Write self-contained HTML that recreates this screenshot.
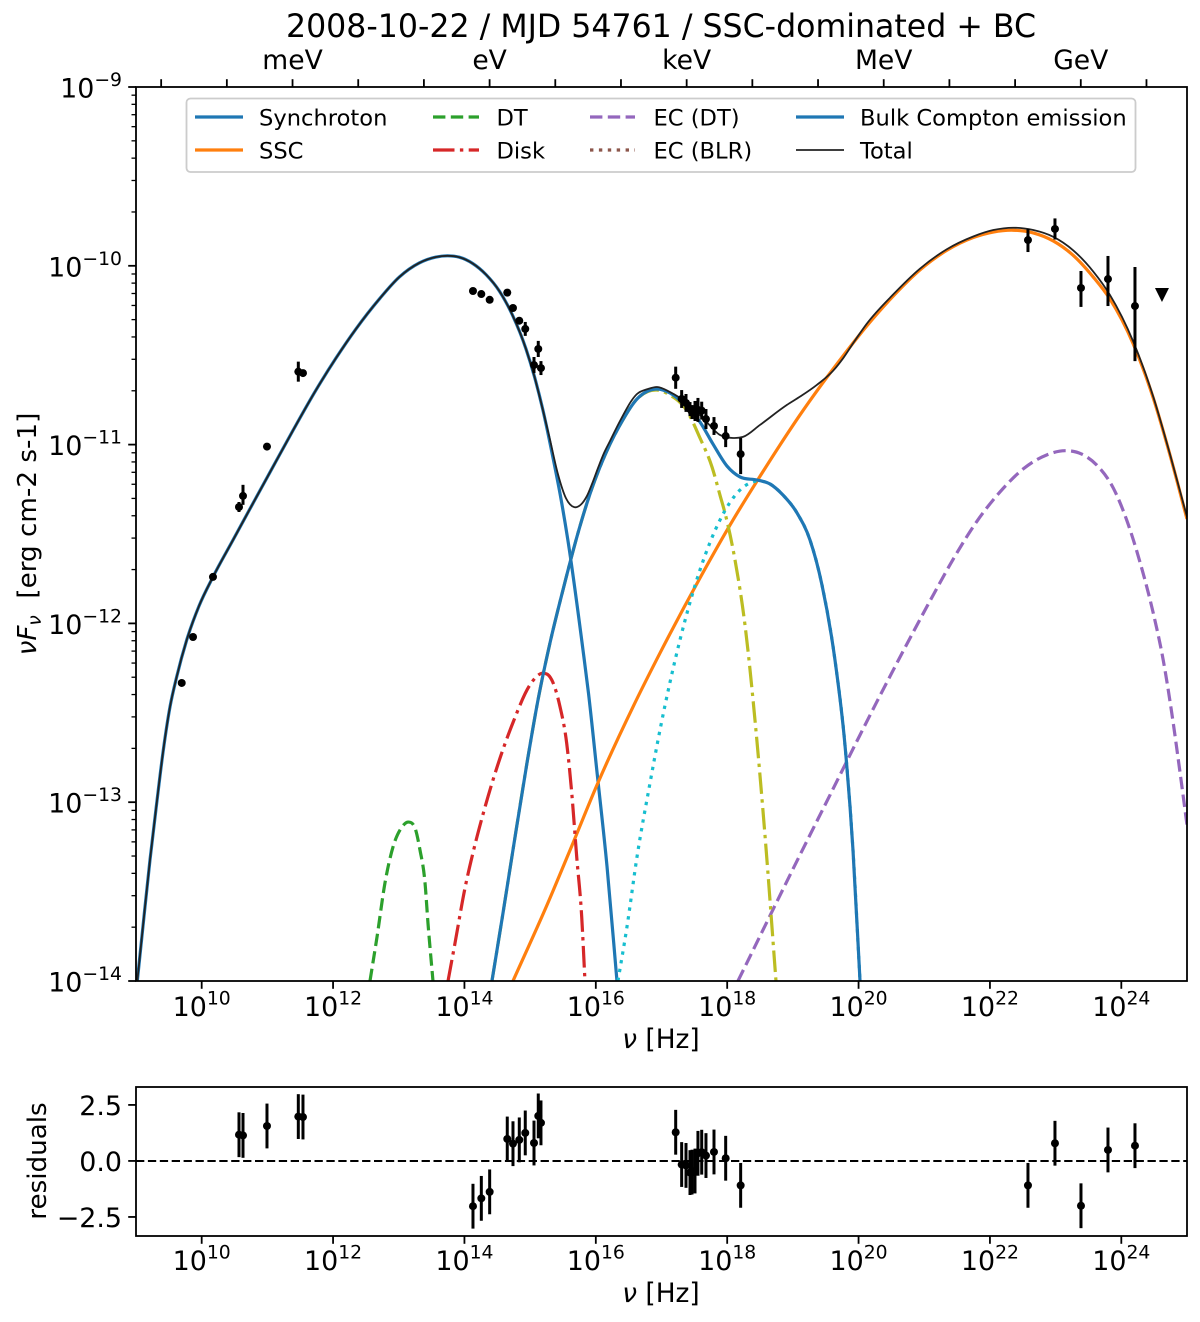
<!DOCTYPE html>
<html lang="en">
<head>
<meta charset="utf-8">
<title>2008-10-22 SED</title>
<style>
html,body{margin:0;padding:0;background:#fff;}
svg{display:block;font-family:"DejaVu Sans","Liberation Sans",sans-serif;fill:#000;}
</style>
</head>
<body>
<svg id="chart" xmlns="http://www.w3.org/2000/svg" width="1200" height="1322" viewBox="0 0 1200 1322">
  <defs>
    <clipPath id="main-clip"><rect x="136" y="87" width="1051" height="894"/></clipPath>
    <clipPath id="res-clip"><rect x="136" y="1087" width="1051" height="149"/></clipPath>
  </defs>
  <rect x="0" y="0" width="1200" height="1322" fill="#fff"/>
  <text x="661" y="37" font-size="31.6" text-anchor="middle">2008-10-22 / MJD 54761 / SSC-dominated + BC</text>
  <g id="main-marks" clip-path="url(#main-clip)"></g>
  <g id="res-marks" clip-path="url(#res-clip)"></g>
  <g id="axes"></g>
  <text x="661" y="1048" font-size="26.4" text-anchor="middle"><tspan font-style="italic">ν</tspan> [Hz]</text>
  <text x="661" y="1302" font-size="26.4" text-anchor="middle"><tspan font-style="italic">ν</tspan> [Hz]</text>
  <text transform="translate(36,534) rotate(-90)" font-size="26.2" text-anchor="middle"><tspan font-style="italic">νF</tspan><tspan font-style="italic" font-size="18.5" dy="5">ν</tspan><tspan dy="-5">&#160;&#160;[erg cm-2 s-1]</tspan></text>
  <text transform="translate(46,1161) rotate(-90)" font-size="26.2" text-anchor="middle">residuals</text>
  <g>
    <rect x="186.5" y="98.5" width="949" height="73.5" rx="4" ry="4" fill="#fff" fill-opacity="0.8" stroke="#ccc" stroke-width="1.8"/>
    <g><line x1="195" x2="243" y1="117" y2="117" stroke="#1f77b4" stroke-width="3.2"/><text x="259" y="125.5" font-size="22.6">Synchroton</text></g>
    <g><line x1="195" x2="243" y1="150" y2="150" stroke="#ff7f0e" stroke-width="3.2"/><text x="259" y="158.5" font-size="22.6">SSC</text></g>
    <g><line x1="433" x2="479" y1="117" y2="117" stroke="#2ca02c" stroke-width="3.2" stroke-dasharray="12.4 5.4"/><text x="496.5" y="125.5" font-size="22.6">DT</text></g>
    <g><line x1="433" x2="479" y1="150" y2="150" stroke="#d62728" stroke-width="3.2" stroke-dasharray="21.5 5.4 3.4 5.4"/><text x="496.5" y="158.5" font-size="22.6">Disk</text></g>
    <g><line x1="590" x2="635" y1="117" y2="117" stroke="#9467bd" stroke-width="3.2" stroke-dasharray="12.4 5.4"/><text x="653.5" y="125.5" font-size="22.6">EC (DT)</text></g>
    <g><line x1="590" x2="635" y1="150" y2="150" stroke="#8c564b" stroke-width="3.2" stroke-dasharray="3.4 5.5"/><text x="653.5" y="158.5" font-size="22.6">EC (BLR)</text></g>
    <g><line x1="796" x2="844" y1="117" y2="117" stroke="#1f77b4" stroke-width="3.2"/><text x="860" y="125.5" font-size="22.6">Bulk Compton emission</text></g>
    <g><line x1="796" x2="844" y1="150" y2="150" stroke="#222" stroke-width="1.8"/><text x="860" y="158.5" font-size="22.6">Total</text></g>
  </g>
</svg>
<script>
// ---- chart data: log10(nu [Hz]) and log10(nuFnu [erg cm-2 s-1]) ----
const synchrotronLogNu = [9.020,9.111,9.213,9.315,9.416,9.518,9.620,9.772,9.959,10.172,10.481,10.725,11.029,11.385,11.740,12.045,12.349,12.704,13.008,13.313,13.567,13.745,13.922,14.126,14.328,14.531,14.734,14.937,15.063,15.191,15.343,15.470,15.572,15.805,15.888,16.018,16.170,16.322];
const synchrotronLogFlux = [-14,-13.677,-13.323,-13.006,-12.708,-12.466,-12.298,-12.093,-11.903,-11.740,-11.531,-11.366,-11.162,-10.924,-10.695,-10.516,-10.353,-10.186,-10.063,-9.984,-9.951,-9.944,-9.952,-9.987,-10.049,-10.141,-10.278,-10.465,-10.616,-10.801,-11.064,-11.304,-11.528,-12.149,-12.389,-12.831,-13.357,-14];

const sscLogNu = [14.739,15.257,15.653,16.018,16.566,16.977,17.586,18.088,18.454,18.804,19.108,19.413,19.717,20.123,20.528,20.935,21.341,21.746,22.051,22.355,22.660,22.964,23.269,23.573,23.827,24.182,24.486,24.741,25];
const sscLogFlux = [-14,-13.575,-13.228,-12.904,-12.467,-12.166,-11.746,-11.422,-11.204,-11.002,-10.834,-10.676,-10.527,-10.337,-10.169,-10.023,-9.914,-9.842,-9.811,-9.801,-9.816,-9.861,-9.942,-10.063,-10.186,-10.437,-10.739,-11.058,-11.416];

const dtLogNu = [12.562,12.669,12.790,12.912,13.049,13.141,13.247,13.323,13.400,13.445,13.521];
const dtLogFlux = [-14,-13.754,-13.452,-13.251,-13.139,-13.111,-13.144,-13.267,-13.452,-13.676,-14];

const diskLogNu = [13.750,13.856,14.008,14.134,14.287,14.491,14.744,14.998,15.177,15.253,15.329,15.455,15.557,15.634,15.709,15.785,15.835];
const diskLogFlux = [-14,-13.789,-13.481,-13.277,-13.062,-12.810,-12.550,-12.344,-12.279,-12.283,-12.316,-12.466,-12.671,-12.950,-13.305,-13.640,-14];

const ecDtLogNu = [18.164,19.108,19.565,20.022,20.276,20.528,20.833,21.137,21.442,21.798,22.153,22.507,22.863,23.142,23.396,23.625,23.878,24.082,24.284,24.486,24.638,24.766,24.893,25];
const ecDtLogFlux = [-14,-13.295,-12.960,-12.624,-12.440,-12.261,-12.048,-11.841,-11.640,-11.431,-11.265,-11.136,-11.058,-11.034,-11.053,-11.114,-11.243,-11.422,-11.657,-11.942,-12.205,-12.496,-12.831,-13.127];

const bulkComptonLogNu = [14.419,14.587,14.739,14.952,15.120,15.302,15.500,15.729,15.911,16.064,16.216,16.368,16.627,16.931,17.129,17.388,17.586,17.784,17.997,18.195,18.454,18.651,18.849,19.063,19.260,19.443,19.641,19.793,19.915,20.022];
const bulkComptonLogFlux = [-14,-13.620,-13.267,-12.781,-12.428,-12.110,-11.813,-11.494,-11.276,-11.125,-10.997,-10.890,-10.745,-10.689,-10.711,-10.790,-10.874,-10.997,-11.120,-11.181,-11.198,-11.220,-11.282,-11.382,-11.533,-11.785,-12.205,-12.680,-13.267,-14];

const bcDiskLogNu = [14.419,14.587,14.739,14.952,15.120,15.302,15.500,15.729,15.911,16.064,16.216,16.368,16.627,16.931,17.129,17.388,17.586,17.769,17.890,17.982,18.119,18.271,18.423,18.575,18.743];
const bcDiskLogFlux = [-14,-13.620,-13.267,-12.781,-12.428,-12.110,-11.813,-11.494,-11.276,-11.125,-10.997,-10.890,-10.745,-10.695,-10.723,-10.812,-10.963,-11.125,-11.282,-11.405,-11.645,-12.009,-12.540,-13.183,-14];

const bcBlrLogNu = [16.337,16.474,16.627,16.825,16.977,17.281,17.586,17.890,18.195,18.454,18.651,18.849,19.063,19.260,19.443,19.641,19.793,19.915,20.022];
const bcBlrLogFlux = [-14,-13.698,-13.306,-12.893,-12.596,-12.093,-11.701,-11.422,-11.254,-11.204,-11.220,-11.282,-11.382,-11.533,-11.785,-12.205,-12.680,-13.267,-14];

const totalLogNu = [9.020,9.111,9.213,9.315,9.416,9.518,9.620,9.772,9.959,10.172,10.481,10.725,11.029,11.385,11.740,12.045,12.349,12.704,13.008,13.313,13.567,13.745,13.922,14.126,14.328,14.531,14.734,14.937,15.063,15.191,15.292,15.420,15.546,15.672,15.774,15.865,15.942,16.033,16.125,16.216,16.368,16.627,16.794,16.931,17.129,17.388,17.632,17.890,18.088,18.240,18.499,18.910,19.108,19.362,19.615,19.767,19.930,20.123,20.528,20.935,21.341,21.746,22.051,22.355,22.660,22.964,23.269,23.573,23.827,24.182,24.486,24.741,25];
const totalLogFlux = [-14,-13.677,-13.323,-13.006,-12.708,-12.466,-12.298,-12.093,-11.903,-11.740,-11.531,-11.366,-11.162,-10.924,-10.695,-10.516,-10.353,-10.186,-10.063,-9.984,-9.951,-9.944,-9.952,-9.987,-10.049,-10.141,-10.278,-10.465,-10.616,-10.801,-10.956,-11.160,-11.300,-11.350,-11.335,-11.287,-11.220,-11.131,-11.047,-10.980,-10.868,-10.717,-10.689,-10.678,-10.706,-10.767,-10.851,-10.946,-10.963,-10.957,-10.890,-10.778,-10.732,-10.667,-10.586,-10.516,-10.426,-10.325,-10.160,-10.016,-9.908,-9.836,-9.800,-9.787,-9.800,-9.838,-9.914,-10.032,-10.163,-10.424,-10.732,-11.054,-11.405];

const obsLogNu = [9.696,9.868,10.172,10.568,10.629,10.994,11.471,11.542,14.130,14.257,14.384,14.652,14.739,14.835,14.926,15.059,15.124,15.165,17.216,17.307,17.373,17.434,17.464,17.510,17.555,17.612,17.677,17.799,17.977,18.205,22.579,22.990,23.386,23.797,24.208];
const obsLogFlux = [-12.333,-12.076,-11.740,-11.349,-11.287,-11.011,-10.592,-10.600,-10.141,-10.158,-10.190,-10.150,-10.236,-10.307,-10.353,-10.555,-10.465,-10.572,-10.626,-10.745,-10.767,-10.801,-10.818,-10.812,-10.806,-10.810,-10.857,-10.896,-10.952,-11.053,-9.856,-9.794,-10.124,-10.074,-10.225];
const obsErrUp = [0,0,0,0.028,0.062,0,0.056,0,0,0,0,0,0,0,0.039,0.045,0.045,0.039,0.062,0.050,0.050,0.039,0.039,0.056,0.067,0.050,0.056,0.050,0.056,0.090,0.062,0.059,0.095,0.129,0.218];
const obsErrDown = [0,0,0,0.028,0.050,0,0.056,0,0,0,0,0,0,0,0.039,0.045,0.045,0.039,0.062,0.050,0.050,0.039,0.039,0.056,0.067,0.050,0.056,0.050,0.062,0.112,0.067,0.059,0.106,0.151,0.308];

const upperLimitLogNu = [24.619];
const upperLimitLogFlux = [-10.163];

const residualLogNu = [10.568,10.629,10.994,11.471,11.542,14.130,14.257,14.384,14.652,14.739,14.835,14.926,15.059,15.124,15.165,17.216,17.307,17.373,17.434,17.464,17.510,17.555,17.612,17.677,17.799,17.977,18.205,22.579,22.990,23.386,23.797,24.208];
const residualValues = [1.17,1.14,1.56,1.98,1.96,-2.02,-1.67,-1.38,0.98,0.77,0.94,1.25,0.80,2.01,1.70,1.28,-0.16,-0.20,-0.52,-0.50,-0.45,0.34,0.39,0.24,0.40,0.12,-1.09,-1.09,0.79,-2.00,0.49,0.68];
const residualErrors = [1,1,1,1,1,1,1,1,1,1,1,1,1,1,1,1,1,1,1,1,1,1,1,1,1,1,1,1,1,1,1,1];

const xTickExponents = [10,12,14,16,18,20,22,24];
const yTickExponents = [-9,-10,-11,-12,-13,-14];
const residualTickValues = [2.5,0,-2.5];
const residualTickLabels = ['2.5','0.0','\u22122.5'];
const topTickLogNu = [9.383,10.383,11.383,12.383,13.383,14.383,15.383,16.383,17.383,18.383,19.383,20.383,21.383,22.383,23.383,24.383];
const energyLabels = ['meV','eV','keV','MeV','GeV'];
const energyLabelLogNu = [11.383,14.383,17.383,20.383,23.383];

// ---- axis functions ----
const AX = {left:136,right:1187,top:87,bottom:981,resTop:1087,resBottom:1236};
function xScale(logNu){return AX.left+(logNu-9)/16*(AX.right-AX.left);}
function yScale(logF){return AX.top+(-9-logF)/5*(AX.bottom-AX.top);}
function resScale(v){return AX.resTop+(3.3-v)/6.65*(AX.resBottom-AX.resTop);}

const NS='http://www.w3.org/2000/svg';
const mainG=document.getElementById('main-marks');
const resG=document.getElementById('res-marks');
const axesG=document.getElementById('axes');

function make(tag,parent){const e=document.createElementNS(NS,tag);parent.appendChild(e);return e;}

// smooth cubic path with parabolic tangents through the points
function smoothPath(xs,ys){
  const n=xs.length,d=[],m=[];
  for(let i=0;i<n-1;i++)d.push((ys[i+1]-ys[i])/(xs[i+1]-xs[i]));
  m[0]=d[0];m[n-1]=d[n-2];
  for(let i=1;i<n-1;i++){
    const h0=xs[i]-xs[i-1],h1=xs[i+1]-xs[i];
    let t=(h1*d[i-1]+h0*d[i])/(h0+h1);
    if(d[i-1]*d[i]>0){
      const lim=3*Math.min(Math.abs(d[i-1]),Math.abs(d[i]));
      if(Math.abs(t)>lim)t=Math.sign(t)*lim;
    }
    m[i]=t;
  }
  let s='M'+xs[0].toFixed(2)+' '+ys[0].toFixed(2);
  for(let i=0;i<n-1;i++){
    const h=(xs[i+1]-xs[i])/3;
    s+=' C'+(xs[i]+h).toFixed(2)+' '+(ys[i]+m[i]*h).toFixed(2)+' '+(xs[i+1]-h).toFixed(2)+' '+(ys[i+1]-m[i+1]*h).toFixed(2)+' '+xs[i+1].toFixed(2)+' '+ys[i+1].toFixed(2);
  }
  return s;
}

function drawCurve(name,logNu,logF,color,width,dash){
  const p=make('path',mainG);
  
  
  p.setAttribute('d',smoothPath(logNu.map(xScale),logF.map(yScale)));
  p.setAttribute('fill','none');
  p.setAttribute('stroke',color);
  p.setAttribute('stroke-width',width);
  if(dash)p.setAttribute('stroke-dasharray',dash);
}

drawCurve('synchrotron-curve',synchrotronLogNu,synchrotronLogFlux,'#1f77b4',3.2,'');
drawCurve('ssc-curve',sscLogNu,sscLogFlux,'#ff7f0e',3.2,'');
drawCurve('dt-curve',dtLogNu,dtLogFlux,'#2ca02c',3.2,'12.4 5.4');
drawCurve('disk-curve',diskLogNu,diskLogFlux,'#d62728',3.2,'21.5 5.4 3.4 5.4');
drawCurve('ec-dt-curve',ecDtLogNu,ecDtLogFlux,'#9467bd',3.2,'12.4 5.4');
drawCurve('bulk-compton-disk-curve',bcDiskLogNu,bcDiskLogFlux,'#bcbd22',3.2,'21.5 5.4 3.4 5.4');
drawCurve('bulk-compton-blr-curve',bcBlrLogNu,bcBlrLogFlux,'#17becf',3.2,'3.4 5.5');
drawCurve('bulk-compton-curve',bulkComptonLogNu,bulkComptonLogFlux,'#1f77b4',3.2,'');
drawCurve('total-curve',totalLogNu,totalLogFlux,'#222',1.8,'');

// observed SED points
obsLogNu.forEach(function(v,i){
  const x=xScale(v),y=yScale(obsLogFlux[i]);
  if(obsErrUp[i]>0||obsErrDown[i]>0){
    const l=make('line',mainG);
    
    
    l.setAttribute('x1',x);l.setAttribute('x2',x);
    l.setAttribute('y1',yScale(obsLogFlux[i]+obsErrUp[i]));
    l.setAttribute('y2',yScale(obsLogFlux[i]-obsErrDown[i]));
    l.setAttribute('stroke','#000');l.setAttribute('stroke-width','3');
  }
  const c=make('circle',mainG);
  
  
  c.setAttribute('cx',x);c.setAttribute('cy',y);c.setAttribute('r','4');
});

// upper limit markers
upperLimitLogNu.forEach(function(v,i){
  const x=xScale(v),y=yScale(upperLimitLogFlux[i]);
  const t=make('path',mainG);
  
  
  t.setAttribute('d','M'+(x-7)+' '+(y-7)+' L'+(x+7)+' '+(y-7)+' L'+x+' '+(y+7)+' Z');
});

// residuals
const zero=make('line',resG);


zero.setAttribute('x1',AX.left);zero.setAttribute('x2',AX.right);
zero.setAttribute('y1',resScale(0));zero.setAttribute('y2',resScale(0));
zero.setAttribute('stroke','#000');zero.setAttribute('stroke-width','2');
zero.setAttribute('stroke-dasharray','8.3 3.6');

residualLogNu.forEach(function(v,i){
  const x=xScale(v);
  const l=make('line',resG);
  
  
  l.setAttribute('x1',x);l.setAttribute('x2',x);
  l.setAttribute('y1',resScale(residualValues[i]+residualErrors[i]));
  l.setAttribute('y2',resScale(residualValues[i]-residualErrors[i]));
  l.setAttribute('stroke','#000');l.setAttribute('stroke-width','3');
  const c=make('circle',resG);
  
  
  c.setAttribute('cx',x);c.setAttribute('cy',resScale(residualValues[i]));c.setAttribute('r','4');
});

// axes helpers
function tick(name,x1,y1,x2,y2,w){
  const l=make('line',axesG);
  
  
  l.setAttribute('x1',x1);l.setAttribute('y1',y1);l.setAttribute('x2',x2);l.setAttribute('y2',y2);
  l.setAttribute('stroke','#000');l.setAttribute('stroke-width',w);
}
function powerLabel(name,x,y,anchor,exponent){
  const t=make('text',axesG);
  
  
  t.setAttribute('x',x);t.setAttribute('y',y);
  t.setAttribute('font-size','26.9');
  t.setAttribute('text-anchor',anchor);
  t.appendChild(document.createTextNode('10'));
  const s=make('tspan',t);
  s.setAttribute('font-size','18.8');
  s.setAttribute('dy','-11.5');
  s.textContent=String(exponent).replace('-','\u2212');
}

// spines
const frame=make('rect',axesG);


frame.setAttribute('x',AX.left);frame.setAttribute('y',AX.top);
frame.setAttribute('width',AX.right-AX.left);frame.setAttribute('height',AX.bottom-AX.top);
frame.setAttribute('fill','none');frame.setAttribute('stroke','#000');frame.setAttribute('stroke-width','1.8');
const frame2=make('rect',axesG);


frame2.setAttribute('x',AX.left);frame2.setAttribute('y',AX.resTop);
frame2.setAttribute('width',AX.right-AX.left);frame2.setAttribute('height',AX.resBottom-AX.resTop);
frame2.setAttribute('fill','none');frame2.setAttribute('stroke','#000');frame2.setAttribute('stroke-width','1.8');

// x ticks, both panels
xTickExponents.forEach(function(e){
  const x=xScale(e);
  tick('sed-x-tick',x,AX.bottom,x,AX.bottom+7.8,1.8);
  powerLabel('sed-x-tick-label',x,AX.bottom+35,'middle',e);
  tick('residuals-x-tick',x,AX.resBottom,x,AX.resBottom+7.8,1.8);
  powerLabel('residuals-x-tick-label',x,AX.resBottom+34,'middle',e);
});

// y ticks main
yTickExponents.forEach(function(e){
  const y=yScale(e);
  tick('sed-y-tick',AX.left,y,AX.left-7.8,y,1.8);
  powerLabel('sed-y-tick-label',122,y+10.5,'end',e);
  if(e>-14){
    for(let k=2;k<=9;k++){
      const ym=yScale(e-1+Math.log10(k));
      tick('sed-y-minor-tick',AX.left,ym,AX.left-4.5,ym,1.3);
    }
  }
});

// y ticks residuals
residualTickValues.forEach(function(v,i){
  const y=resScale(v);
  tick('residuals-y-tick',AX.left,y,AX.left-7.8,y,1.8);
  const t=make('text',axesG);
  
  
  t.setAttribute('x',122);t.setAttribute('y',y+10);
  t.setAttribute('font-size','26.9');t.setAttribute('text-anchor','end');
  t.textContent=residualTickLabels[i];
});

// top energy axis
topTickLogNu.forEach(function(v){
  const x=xScale(v);
  tick('energy-axis-tick',x,AX.top,x,AX.top-7.8,1.8);
});
energyLabels.forEach(function(label,i){
  const t=make('text',axesG);
  
  
  t.setAttribute('x',xScale(energyLabelLogNu[i]));t.setAttribute('y',69);
  t.setAttribute('font-size','26.6');t.setAttribute('text-anchor','middle');
  t.textContent=label;
});
</script>
</body>
</html>
